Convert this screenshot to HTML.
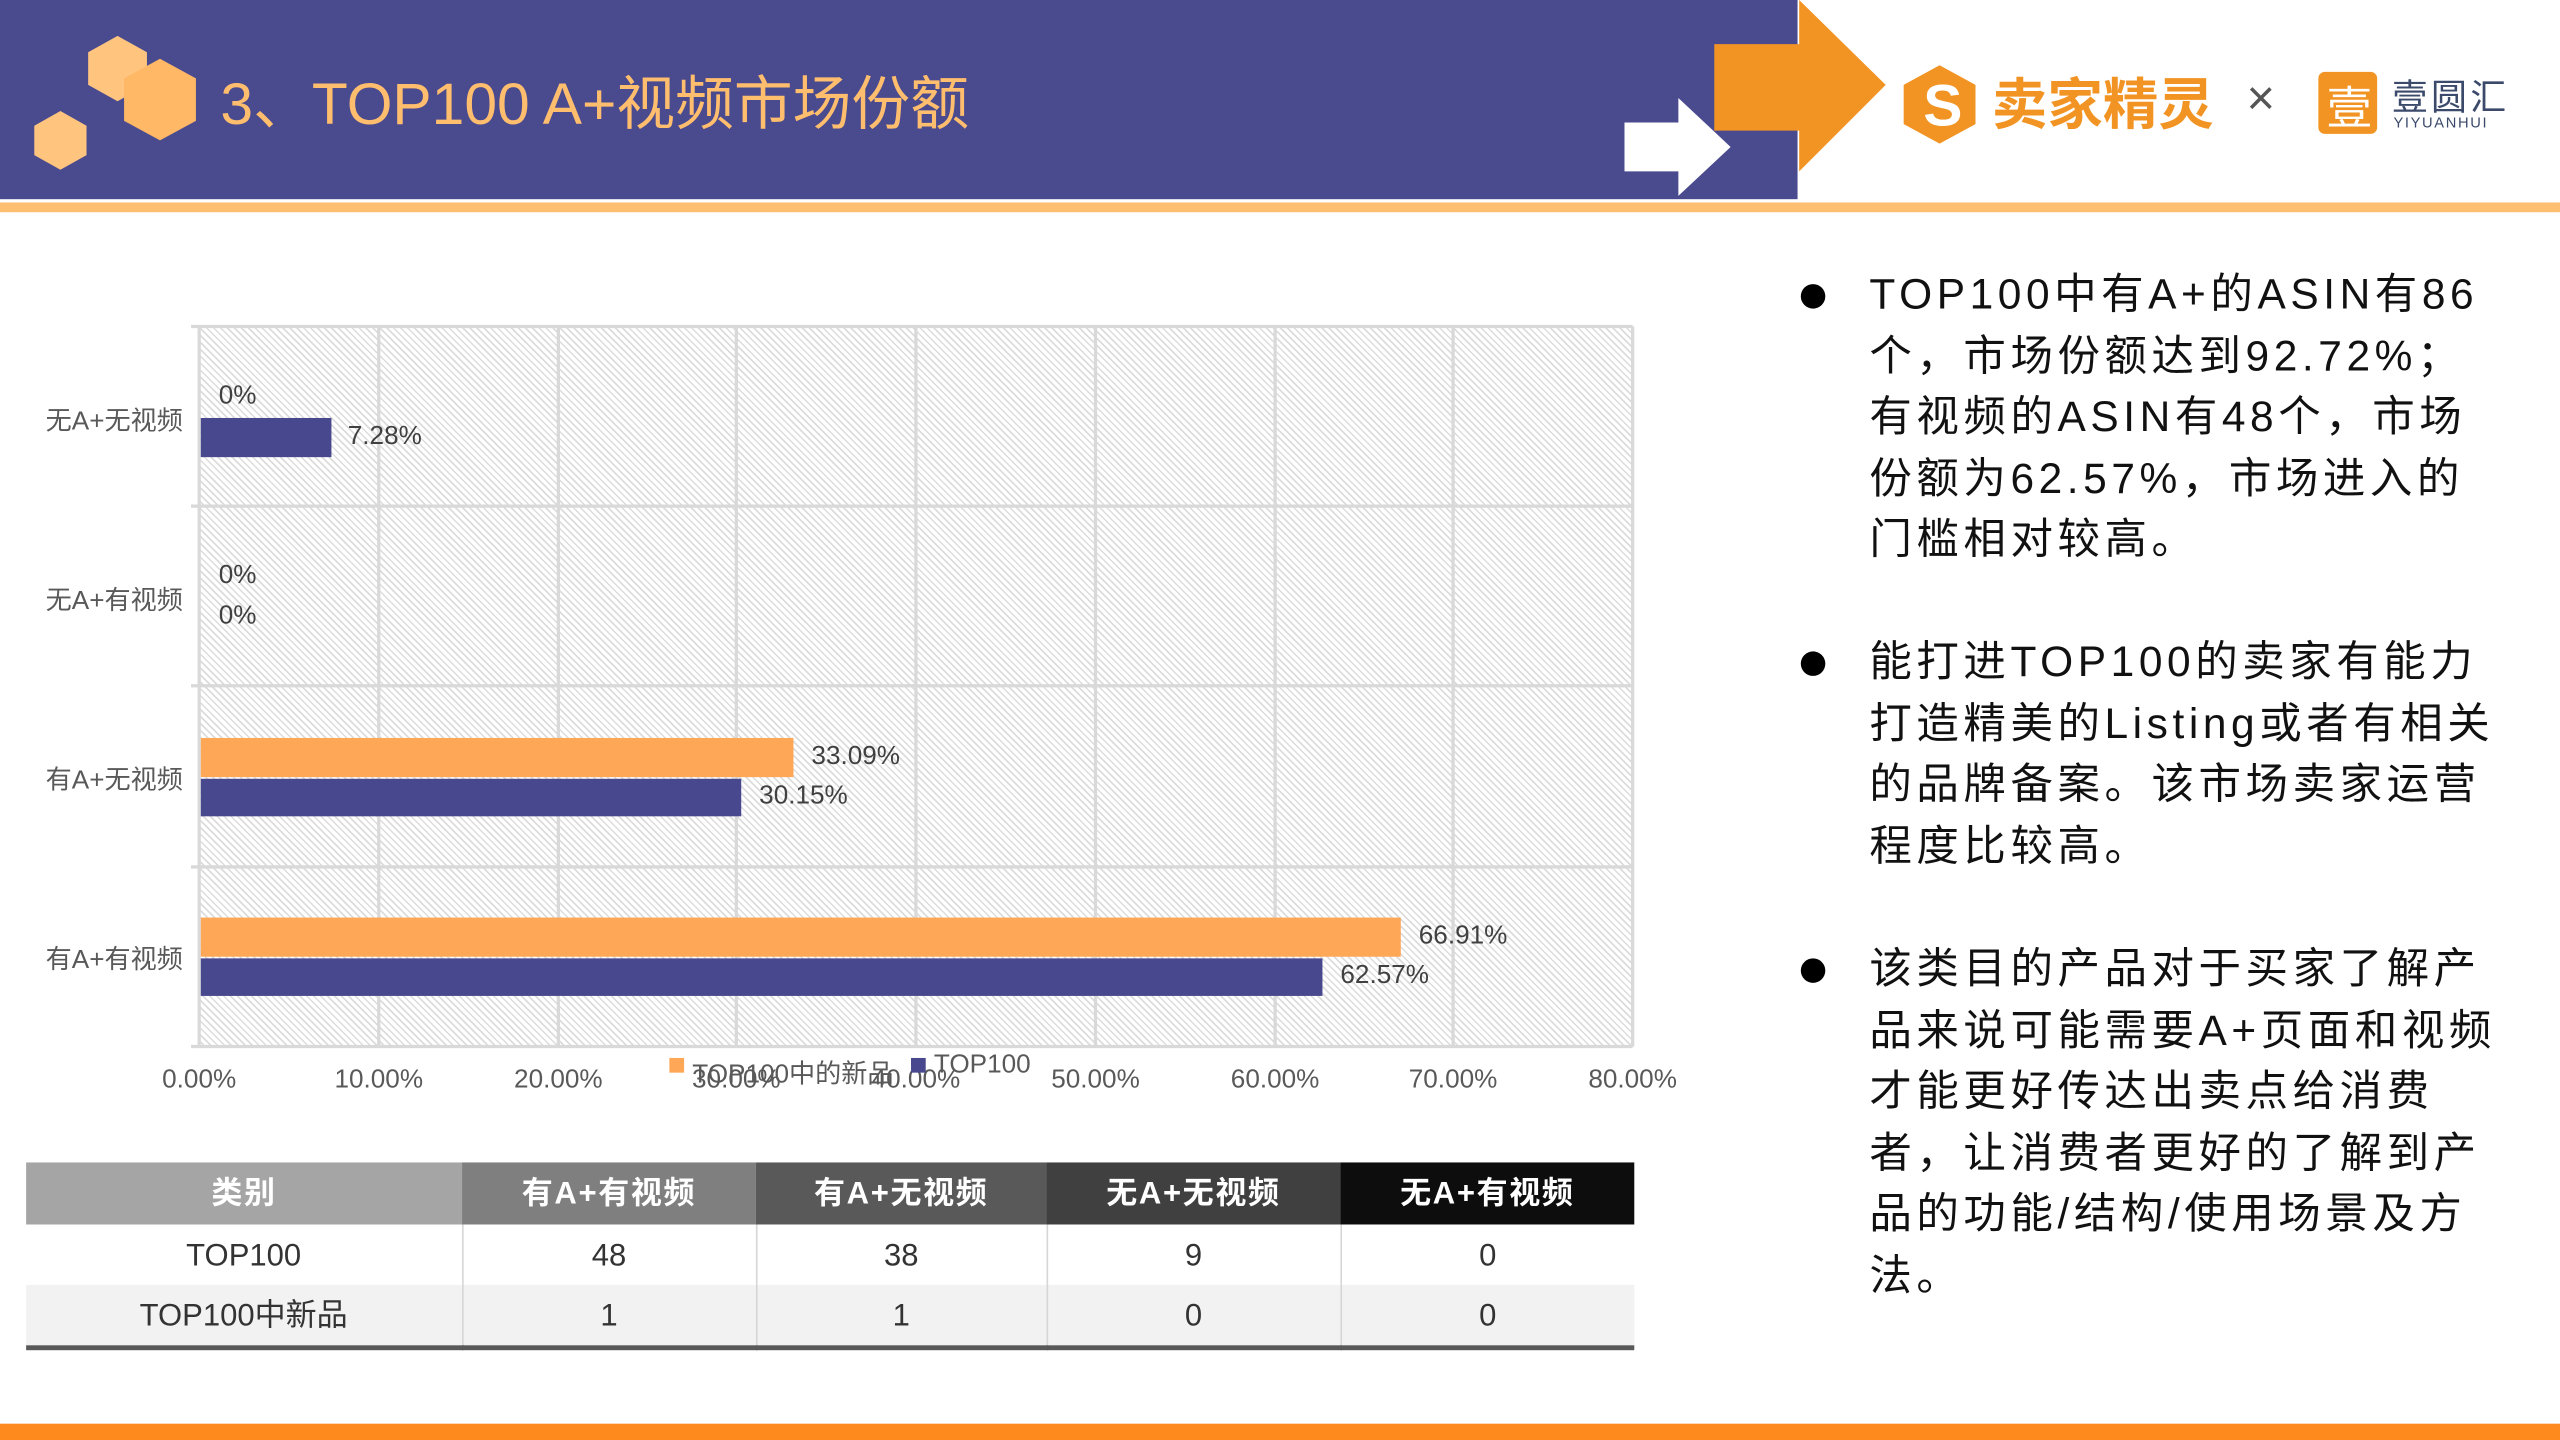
<!DOCTYPE html>
<html><head><meta charset="utf-8"><style>
html,body{margin:0;padding:0;width:2560px;height:1440px;overflow:hidden;background:#fff}
#s{position:absolute;left:0;top:0;width:1568px;height:882px;transform:scale(1.632653);transform-origin:0 0;font-family:"Liberation Sans","Noto Sans CJK SC",sans-serif}
.a{position:absolute}
.yl{position:absolute;right:1456px;font-size:16px;color:#595959;white-space:nowrap;transform:translateY(-50%)}
.xl{position:absolute;top:653px;font-size:16px;color:#595959;width:80px;text-align:center}
.dl{position:absolute;font-size:16px;color:#404040;white-space:nowrap;transform:translateY(-50%)}
.bar{position:absolute;left:123px}
.o{background:#fda757}.p{background:#48488e}
table{position:absolute;left:16px;top:712px;border-collapse:collapse;width:985px;font-size:19px}
td{height:35px;text-align:center;padding:2px 0 0 0;color:#333;border-left:1px solid #d6d6d6;line-height:22px}
td:first-child{border-left:none}
th{height:36px;color:#fff;font-weight:bold;padding:2px 0 0 0;letter-spacing:1px;line-height:22px}
.txt{position:absolute;left:1145px;font-size:26px;line-height:37.6px;color:#111;letter-spacing:2.8px;white-space:nowrap}
.bul{position:absolute;left:1103px;width:15px;height:15px;border-radius:50%;background:#000}
</style></head><body><div id="s">
<div class="a" style="left:0;top:0;width:1101px;height:122px;background:#4a4a8f"></div>
<div class="a" style="left:0;top:124px;width:1568px;height:6px;background:#ffbf72"></div>
<svg class="a" style="left:0;top:0" width="1568" height="124">
<polygon points="72,22 90,32 90,52 72,62 54,52 54,32" fill="#ffc57f"/>
<polygon points="98,36 120,48 120,74 98,86 76,74 76,48" fill="#ffb865"/>
<polygon points="37,68 53,77 53,95 37,104 21,95 21,77" fill="#ffc57f"/>
<polygon points="995,75 1028,75 1028,60 1060,90 1028,120 1028,105 995,105" fill="#fff"/>
<polygon points="1050,27 1102,27 1102,0 1155,52 1102,105 1102,80 1050,80" fill="#f29424"/>
<polygon points="1188,40 1210,52 1210,76 1188,88 1166,76 1166,52" fill="#f29424"/>
<text x="1178" y="77" font-size="36" font-weight="bold" fill="#fff" font-family="Liberation Sans">S</text>
<rect x="1420" y="44" width="36" height="38" rx="4" fill="#f29424"/>
<text x="1425" y="76" font-size="28" fill="#fff" font-family="Noto Sans CJK SC">壹</text>
</svg>
<div class="a" style="left:135px;top:35px;font-size:36px;color:#ffbd6e;white-space:nowrap">3、TOP100 A+视频市场份额</div>
<div class="a" style="left:1220px;top:38px;font-size:34px;font-weight:bold;color:#f29424;white-space:nowrap;font-family:'Noto Sans CJK SC',sans-serif;line-height:48px">卖家精灵</div>
<div class="a" style="left:1376px;top:44px;font-size:30px;color:#555">×</div>
<div class="a" style="left:1465px;top:44px;font-size:22px;color:#3b4a6b;letter-spacing:2px;font-family:'Noto Sans CJK SC',sans-serif;line-height:28px">壹圆汇</div>
<div class="a" style="left:1466px;top:70px;font-size:9px;color:#3b4a6b;letter-spacing:1px">YIYUANHUI</div>
<div class="a" style="left:122px;top:200px;width:878px;height:441px;background:repeating-linear-gradient(45deg,#fff 0,#fff 2px,#dcdcdc 2px,#dcdcdc 3px)"></div>
<svg class="a" style="left:0;top:0" width="1568" height="700">
<g stroke="#d9d9d9" stroke-width="2">
<line x1="122" y1="200" x2="122" y2="641"/><line x1="232" y1="200" x2="232" y2="641"/><line x1="342" y1="200" x2="342" y2="641"/><line x1="451" y1="200" x2="451" y2="641"/><line x1="561" y1="200" x2="561" y2="641"/><line x1="671" y1="200" x2="671" y2="641"/><line x1="781" y1="200" x2="781" y2="641"/><line x1="890" y1="200" x2="890" y2="641"/><line x1="1000" y1="200" x2="1000" y2="641"/>
<line x1="117" y1="200" x2="1000" y2="200"/><line x1="117" y1="310" x2="1000" y2="310"/><line x1="117" y1="420" x2="1000" y2="420"/><line x1="117" y1="531" x2="1000" y2="531"/><line x1="117" y1="641" x2="1000" y2="641"/>
</g></svg>
<div class="bar p" style="top:256px;width:80px;height:24px"></div>
<div class="bar o" style="top:452px;width:363px;height:24px"></div>
<div class="bar p" style="top:477px;width:331px;height:23px"></div>
<div class="bar o" style="top:562px;width:735px;height:24px"></div>
<div class="bar p" style="top:587px;width:687px;height:23px"></div>
<div class="dl" style="left:134px;top:243px">0%</div>
<div class="dl" style="left:213px;top:268px">7.28%</div>
<div class="dl" style="left:134px;top:353px">0%</div>
<div class="dl" style="left:134px;top:378px">0%</div>
<div class="dl" style="left:497px;top:464px">33.09%</div>
<div class="dl" style="left:465px;top:488px">30.15%</div>
<div class="dl" style="left:869px;top:574px">66.91%</div>
<div class="dl" style="left:821px;top:598px">62.57%</div>
<div class="yl" style="top:256px">无A+无视频</div>
<div class="yl" style="top:366px">无A+有视频</div>
<div class="yl" style="top:476px">有A+无视频</div>
<div class="yl" style="top:586px">有A+有视频</div>
<div class="xl" style="left:82px">0.00%</div><div class="xl" style="left:192px">10.00%</div><div class="xl" style="left:302px">20.00%</div><div class="xl" style="left:411px">30.00%</div><div class="xl" style="left:521px">40.00%</div><div class="xl" style="left:631px">50.00%</div><div class="xl" style="left:741px">60.00%</div><div class="xl" style="left:850px">70.00%</div><div class="xl" style="left:960px">80.00%</div>
<div class="a" style="left:410px;top:648px;width:9px;height:9px;background:#fda757"></div>
<div class="a" style="left:424px;top:644px;font-size:16px;color:#595959;white-space:nowrap">TOP100中的新品</div>
<div class="a" style="left:558px;top:648px;width:9px;height:9px;background:#48488e"></div>
<div class="a" style="left:572px;top:644px;font-size:16px;color:#595959">TOP100</div>
<table>
<tr><th style="background:#a5a5a5;width:267px">类别</th><th style="background:#7f7f7f;width:180px">有A+有视频</th><th style="background:#595959;width:178px">有A+无视频</th><th style="background:#404040;width:180px">无A+无视频</th><th style="background:#0d0d0d">无A+有视频</th></tr>
<tr><td>TOP100</td><td>48</td><td>38</td><td>9</td><td>0</td></tr>
<tr style="background:#f2f2f2;border-bottom:3px solid #595959"><td>TOP100中新品</td><td>1</td><td>1</td><td>0</td><td>0</td></tr>
</table>
<div class="bul" style="top:174px"></div>
<div class="txt" style="top:162px">TOP100中有A+的ASIN有86<br>个，市场份额达到92.72%；<br>有视频的ASIN有48个，市场<br>份额为62.57%，市场进入的<br>门槛相对较高。</div>
<div class="bul" style="top:399px"></div>
<div class="txt" style="top:387px">能打进TOP100的卖家有能力<br>打造精美的Listing或者有相关<br>的品牌备案。该市场卖家运营<br>程度比较高。</div>
<div class="bul" style="top:587px"></div>
<div class="txt" style="top:575px">该类目的产品对于买家了解产<br>品来说可能需要A+页面和视频<br>才能更好传达出卖点给消费<br>者，让消费者更好的了解到产<br>品的功能/结构/使用场景及方<br>法。</div>
<div class="a" style="left:0;top:872px;width:1568px;height:10px;background:#fe8a1e"></div>
</div></body></html>
